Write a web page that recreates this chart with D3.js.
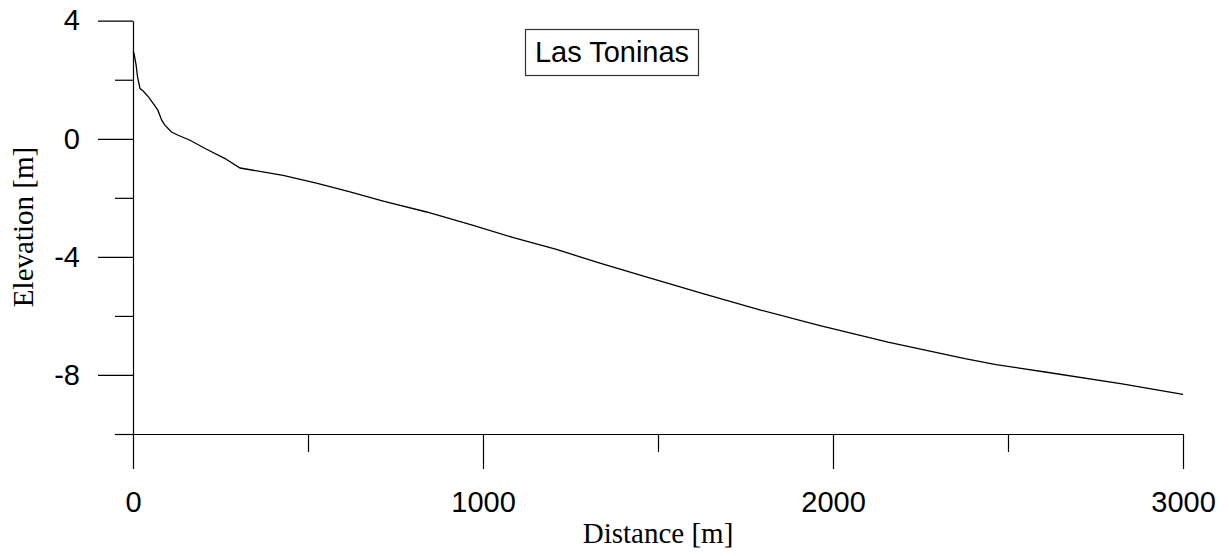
<!DOCTYPE html>
<html>
<head>
<meta charset="utf-8">
<script src="https://cdn.jsdelivr.net/npm/d3@7"></script>
<style>
  body { margin: 0; background: #fff; }
  svg { display: block; }
  .tick text { font-family: "Liberation Sans", Arial, sans-serif; font-size: 29px; fill: #000; }
  .axis-title { font-family: "Liberation Serif", "Times New Roman", serif; font-size: 29px; fill: #000; }
</style>
</head>
<body>
<div id="chart"></div>
<script>
  // profile data
  var distance  = [0, 3, 9, 13, 20, 29, 44, 58, 71, 82, 91, 110, 129, 163, 206, 263, 306,
                   429, 524, 620, 715, 839, 972, 1087, 1210, 1334, 1466, 1631, 1796, 1960,
                   2157, 2377, 2466, 2606, 2826, 3000];
  var elevation = [2.95, 2.89, 2.49, 2.1, 1.7, 1.62, 1.42, 1.19, 0.97, 0.63, 0.46, 0.23, 0.12, -0.05, -0.33, -0.67, -0.99,
                   -1.24, -1.5, -1.8, -2.11, -2.48, -2.93, -3.35, -3.75, -4.21, -4.68, -5.25, -5.81, -6.32,
                   -6.89, -7.45, -7.65, -7.9, -8.3, -8.66];

  var xMajor = [0, 1000, 2000, 3000];
  var xMinor = [500, 1500, 2500];
  var yMajor = [4, 0, -4, -8];
  var yMinor = [2, -2, -6, -10];
  var chartTitle = 'Las Toninas';

  var width = 1229, height = 556;

  var x = d3.scaleLinear().domain([0, 3000]).range([133, 1183]);
  var y = d3.scaleLinear().domain([-10, 4]).range([434, 20.7]);

  // plain hyphen for negatives, like the original
  var fmt = function (d) { return String(d); };

  var svg = d3.select('#chart').append('svg')
    .attr('width', width)
    .attr('height', height);

  // y axis: long major ticks with labels, short minor ticks
  var yAxisG = svg.append('g').attr('transform', 'translate(133,0)');
  yAxisG.call(d3.axisLeft(y).tickValues(yMajor).tickSize(35).tickSizeOuter(0).tickPadding(18)
    .tickFormat(fmt));
  yAxisG.append('g').call(d3.axisLeft(y).tickValues(yMinor).tickSize(18).tickFormat(''))
    .select('.domain').remove();

  // x axis
  var xAxisG = svg.append('g').attr('transform', 'translate(0,434)');
  xAxisG.call(d3.axisBottom(x).tickValues(xMajor).tickSize(35).tickSizeOuter(0)
    .tickFormat(fmt));
  xAxisG.selectAll('.tick text').attr('y', 78).attr('dy', 0);
  xAxisG.append('g').call(d3.axisBottom(x).tickValues(xMinor).tickSize(18).tickFormat(''))
    .select('.domain').remove();

  svg.selectAll('.domain, .tick line').attr('stroke', '#000').attr('stroke-width', 1.2);
  svg.selectAll('.tick text').attr('font-family', null).attr('font-size', null);

  // profile line
  var line = d3.line()
    .x(function (d) { return x(d[0]); })
    .y(function (d) { return y(d[1]); });

  svg.append('path')
    .datum(d3.zip(distance, elevation))
    .attr('fill', 'none')
    .attr('stroke', '#000')
    .attr('stroke-width', 1.3)
    .attr('d', line);

  // axis titles
  svg.append('text')
    .attr('class', 'axis-title')
    .attr('x', 658).attr('y', 543)
    .attr('text-anchor', 'middle')
    .text('Distance [m]');

  svg.append('text')
    .attr('class', 'axis-title')
    .attr('transform', 'translate(33,227) rotate(-90)')
    .attr('text-anchor', 'middle')
    .text('Elevation [m]');

  // boxed title
  svg.append('rect')
    .attr('x', 525.5).attr('y', 29.5)
    .attr('width', 173).attr('height', 46)
    .attr('fill', '#fff')
    .attr('stroke', '#333')
    .attr('stroke-width', 1.2);

  svg.append('text')
    .attr('x', 612).attr('y', 62)
    .attr('text-anchor', 'middle')
    .style('font-family', '"Liberation Sans", Arial, sans-serif')
    .style('font-size', '29px')
    .text(chartTitle);
</script>
</body>
</html>
